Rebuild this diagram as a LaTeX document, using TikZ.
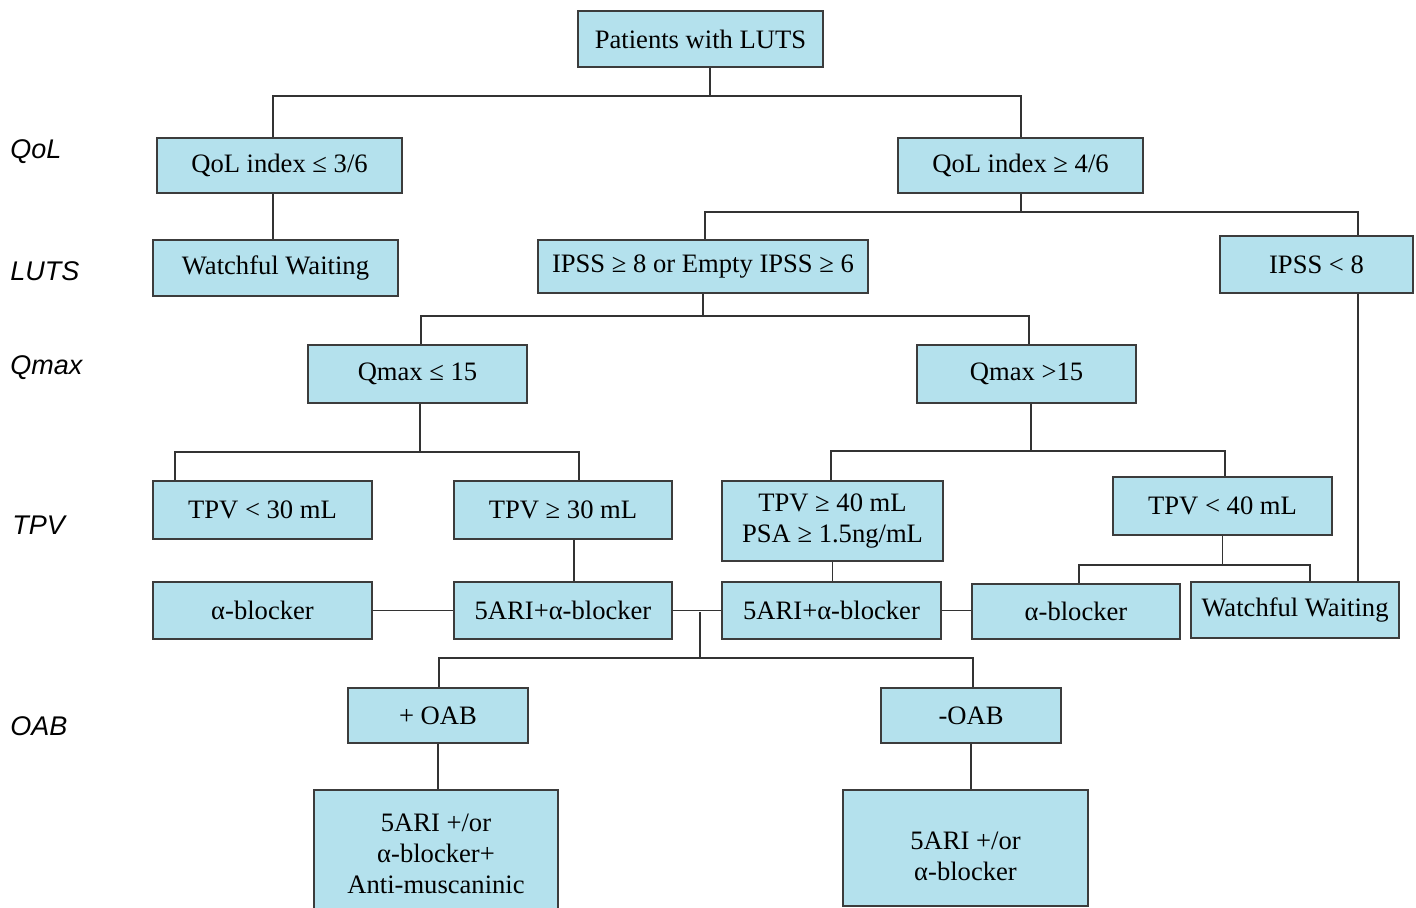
\documentclass[tikz,border=0pt]{standalone}
\usepackage{fontspec}
\setmainfont{Liberation Serif}
\newfontfamily\lblfont{Liberation Sans}
\definecolor{BoxFill}{RGB}{180,225,237}
\definecolor{BoxLine}{RGB}{60,60,60}
\begin{document}
\begin{tikzpicture}[x=0.5pt, y=-0.5pt,
    box/.style={draw=BoxLine, fill=BoxFill, line width=0.7pt, inner sep=0pt,
                minimum width=109.5pt, minimum height=28.5pt, align=center,
                font=\fontsize{13.3}{15.4}\selectfont},
    link/.style={line width=0.7pt, black!80},
    level/.style={anchor=west, inner sep=0pt, font=\lblfont\itshape\fontsize{13.5}{16}\selectfont}]
  \useasboundingbox (0,0) rectangle (1416,907);
  % row labels
  \node[level] (lqol)  at (10,152) {QoL};
  \node[level] (lluts) at (10,271) {LUTS};
  \node[level] (lqmax) at (10,368) {Qmax};
  \node[level] (ltpv)  at (12,525) {TPV};
  \node[level] (loab)  at (10,726) {OAB};
  % boxes
  \node[box, minimum width=122.5pt, minimum height=28pt] (pat) at (700.5,39) {Patients with LUTS};
  \node[box, minimum width=122.5pt, minimum height=27.5pt] (qlo) at (279.5,165.5) {QoL index ≤ 3/6};
  \node[box, minimum width=122.5pt, minimum height=27.5pt] (qhi) at (1020.5,165.5) {QoL index ≥ 4/6};
  \node[box, minimum width=122.5pt, minimum height=28pt] (ww1) at (275.5,268) {Watchful Waiting};
  \node[box, minimum width=165pt, minimum height=26.5pt] (ipss) at (703,266.5) {IPSS ≥ 8 or Empty IPSS ≥ 6};
  \node[box, minimum width=96.5pt] (ipsslo) at (1316.5,264.5) {IPSS < 8};
  \node[box, minimum height=29pt] (qmlo) at (417.5,374) {Qmax ≤ 15};
  \node[box, minimum height=29pt] (qmhi) at (1026.5,374) {Qmax >15};
  \node[box, minimum height=29pt] (tpvlo) at (262.5,510) {TPV < 30 mL};
  \node[box, minimum width=109pt, minimum height=29pt] (tpvmid) at (563,510) {TPV ≥ 30 mL};
  \node[box, minimum width=110.5pt, minimum height=40pt] (tpvhi) at (832.5,521) {TPV ≥ 40 mL\\PSA ≥ 1.5ng/mL};
  \node[box, minimum height=29pt] (tpvsm) at (1222.5,506) {TPV < 40 mL};
  \node[box] (ab1) at (262.5,610.5) {α-blocker};
  \node[box, minimum width=109pt] (fa1) at (563,610.5) {5ARI+α-blocker};
  \node[box] (fa2) at (831.5,610.5) {5ARI+α-blocker};
  \node[box, minimum width=104pt, minimum height=27.5pt] (ab2) at (1076,611.5) {α-blocker};
  \node[box, minimum width=104pt, minimum height=28pt] (ww2) at (1295,610) {Watchful Waiting};
  \node[box, minimum width=90pt, minimum height=27.5pt] (oabp) at (438,715.5) {+ OAB};
  \node[box, minimum width=90pt, minimum height=27.5pt] (oabm) at (971,715.5) {-OAB};
  \node[box, minimum width=122pt, minimum height=64pt] (trp) at (436,854) {5ARI +/or\\α-blocker+\\Anti-muscaninic};
  \node[box, minimum width=122.5pt, minimum height=58pt] (trm) at (965.5,848)
    {\rule{0pt}{17.5pt}5ARI +/or\\α-blocker};
  % bus junctions
  \coordinate (j1l) at (273,96);   \coordinate (j1r) at (1021,96);  \coordinate (j1) at (710,96);
  \coordinate (j2l) at (705,212);  \coordinate (j2r) at (1358,212);
  \coordinate (j3l) at (421,316);  \coordinate (j3r) at (1029,316);
  \coordinate (j4l) at (175,452);  \coordinate (j4r) at (579,452);
  \coordinate (j5l) at (831,451);  \coordinate (j5r) at (1225,451);
  \coordinate (j6)  at (700,612);
  \coordinate (j7l) at (439,658);  \coordinate (j7r) at (973,658);
  \coordinate (j8l) at (1079,565); \coordinate (j8r) at (1310,565);
  % connectors
  \draw[link] (pat.south -| j1) -- (j1);
  \draw[link] (qlo.north -| j1l) -- (j1l) -- (j1r) -- (qhi.north -| j1r);
  \draw[link] (qlo.south -| j1l) -- (ww1.north -| j1l);
  \draw[link] (qhi.south -| j1r) -- (j1r |- j2l);
  \draw[link] (ipss.north -| j2l) -- (j2l) -- (j2r) -- (ipsslo.north -| j2r);
  \draw[link] (ipss.south) -- (ipss.south |- j3l);
  \draw[link] (qmlo.north -| j3l) -- (j3l) -- (j3r) -- (qmhi.north -| j3r);
  \draw[link] ([xshift=1.25pt]qmlo.south) -- ([xshift=1.25pt]qmlo.south |- j4l);
  \draw[link] (tpvlo.north -| j4l) -- (j4l) -- (j4r) -- (tpvmid.north -| j4r);
  \draw[link] ([xshift=2.25pt]qmhi.south) -- ([xshift=2.25pt]qmhi.south |- j5l);
  \draw[link] (tpvhi.north -| j5l) -- (j5l) -- (j5r) -- (tpvsm.north -| j5r);
  \draw[link] (ipsslo.south -| j2r) -- (ww2.north -| j2r);
  \draw[link] ([xshift=5.5pt]tpvmid.south) -- ([xshift=5.5pt]fa1.north);
  \draw[link] (tpvhi.south) -- (fa2.north -| tpvhi.south);
  \draw[link] (ab1.east) -- (fa1.west);
  \draw[link] (fa1.east) -- (fa2.west);
  \draw[link] (fa2.east) -- (ab2.west |- fa2.east);
  \draw[link] (j6) -- (j6 |- j7l);
  \draw[link] (oabp.north -| j7l) -- (j7l) -- (j7r) -- (oabm.north -| j7r);
  \draw[link] (tpvsm.south) -- (tpvsm.south |- j8l);
  \draw[link] (ab2.north -| j8l) -- (j8l) -- (j8r) -- (ww2.north -| j8r);
  \draw[link] (oabp.south) -- (trp.north -| oabp.south);
  \draw[link] (oabm.south) -- (trm.north -| oabm.south);
\end{tikzpicture}
\end{document}
